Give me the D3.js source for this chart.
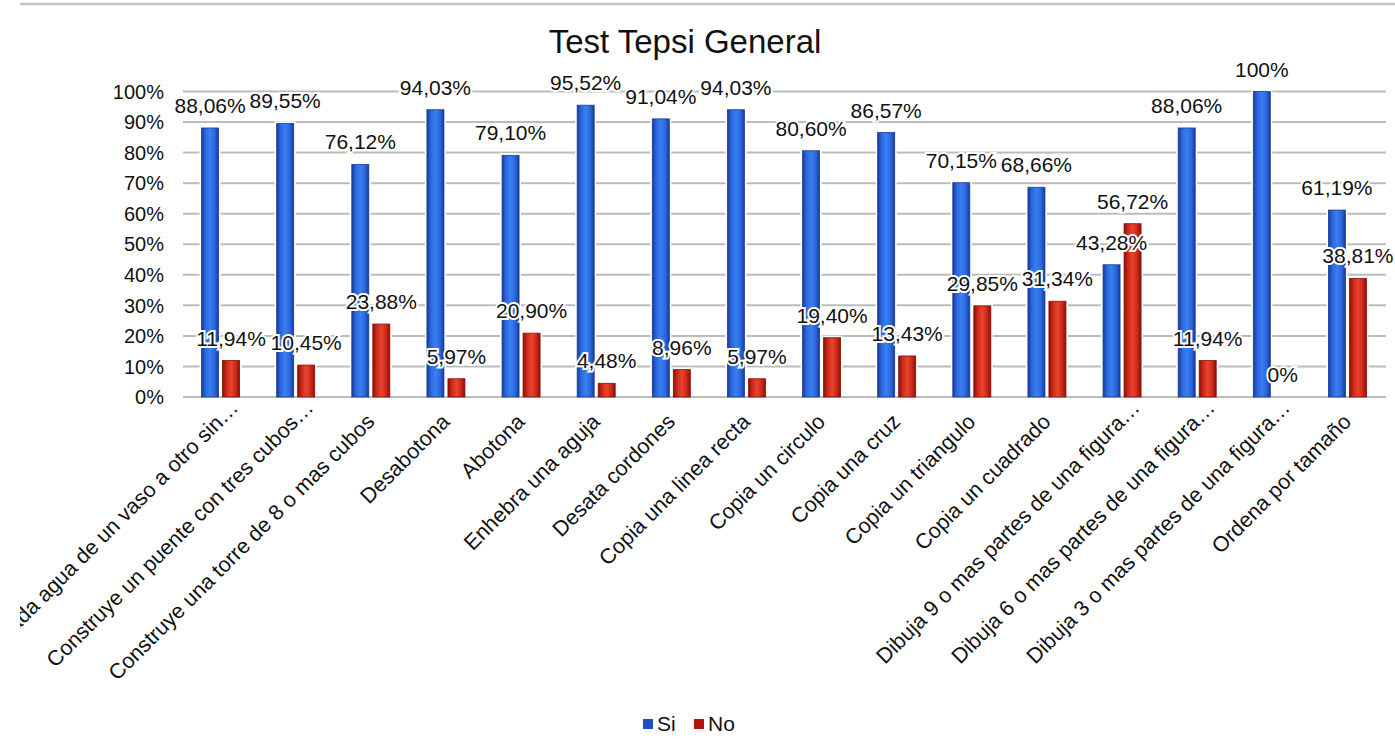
<!DOCTYPE html>
<html>
<head>
<meta charset="utf-8">
<script src="https://cdn.jsdelivr.net/npm/d3@7"></script>
<style>
  body { margin: 0; background: #fff; }
  text { font-family: "Liberation Sans", Arial, sans-serif; fill: #111; }
</style>
</head>
<body>
<svg width="1395" height="755"></svg>
<script>
const categories = [
  'Traslada agua de un vaso a otro sin…',
  'Construye un puente con tres cubos…',
  'Construye una torre de 8 o mas cubos',
  'Desabotona',
  'Abotona',
  'Enhebra una aguja',
  'Desata cordones',
  'Copia una linea recta',
  'Copia un circulo',
  'Copia una cruz',
  'Copia un triangulo',
  'Copia un cuadrado',
  'Dibuja 9 o mas partes de una figura…',
  'Dibuja 6 o mas partes de una figura…',
  'Dibuja 3 o mas partes de una figura…',
  'Ordena por tamaño'
];
const si = [88.06, 89.55, 76.12, 94.03, 79.10, 95.52, 91.04, 94.03, 80.60, 86.57, 70.15, 68.66, 43.28, 88.06, 100, 61.19];
const no = [11.94, 10.45, 23.88, 5.97, 20.90, 4.48, 8.96, 5.97, 19.40, 13.43, 29.85, 31.34, 56.72, 11.94, 0, 38.81];
const seriesNames = ['Si', 'No'];
const yTicks = [0, 10, 20, 30, 40, 50, 60, 70, 80, 90, 100];

const svg = d3.select('svg');

const defs = svg.append('defs');
defs.append('clipPath').attr('id', 'clip')
  .append('rect').attr('x', 20).attr('y', 0).attr('width', 1375).attr('height', 755);

function grad(id, edge, mid, center) {
  const g = defs.append('linearGradient').attr('id', id)
    .attr('x1', '0%').attr('x2', '100%').attr('y1', '0%').attr('y2', '0%');
  g.append('stop').attr('offset', '0%').attr('stop-color', edge);
  g.append('stop').attr('offset', '22%').attr('stop-color', mid);
  g.append('stop').attr('offset', '50%').attr('stop-color', center);
  g.append('stop').attr('offset', '78%').attr('stop-color', mid);
  g.append('stop').attr('offset', '100%').attr('stop-color', edge);
}
grad('gSi', '#17389a', '#2a66dc', '#3a7ff2');
grad('gNo', '#8a0e08', '#cc2818', '#e8442f');
const fills = { Si: 'url(#gSi)', No: 'url(#gNo)' };
const strokes = { Si: '#1a3c96', No: '#861008' };
const legendColors = { Si: '#1d4fc0', No: '#b3150e' };

const root = svg.append('g').attr('clip-path', 'url(#clip)');

// top border line
root.append('line')
  .attr('x1', 20).attr('x2', 1395).attr('y1', 4).attr('y2', 4)
  .attr('stroke', '#c4c4c4').attr('stroke-width', 2.5);

root.append('text')
  .attr('x', 685).attr('y', 53)
  .attr('text-anchor', 'middle')
  .style('font-size', '33px')
  .text('Test Tepsi General');

const x0 = d3.scaleBand()
  .domain(categories)
  .range([183, 1385])
  .paddingInner(0.494)
  .paddingOuter(0.247);

const x1 = d3.scaleBand()
  .domain(seriesNames)
  .range([0, x0.bandwidth()])
  .paddingInner(0.19);

const y = d3.scaleLinear().domain([0, 100]).range([397, 91.5]);

// gridlines
root.append('g')
  .selectAll('line')
  .data(yTicks)
  .enter().append('line')
    .attr('x1', 183).attr('x2', 1386)
    .attr('y1', d => y(d)).attr('y2', d => y(d))
    .attr('stroke', '#bcbcbc').attr('stroke-width', 2);

// y tick labels
root.append('g')
  .selectAll('text')
  .data(yTicks)
  .enter().append('text')
    .attr('x', 164)
    .attr('y', d => y(d))
    .attr('dy', '0.36em')
    .attr('text-anchor', 'end')
    .style('font-size', '20px')
    .text(d => d + '%');

const rows = categories.map((c, i) => ({ cat: c, values: [
  { key: 'Si', value: si[i] },
  { key: 'No', value: no[i] }
]}));

const groups = root.append('g')
  .selectAll('g')
  .data(rows)
  .enter().append('g')
    .attr('transform', d => `translate(${x0(d.cat)},0)`);

// white halo behind bars
groups.selectAll('rect.halo')
  .data(d => d.values.filter(v => v.value > 0))
  .enter().append('rect')
    .attr('class', 'halo')
    .attr('x', d => x1(d.key) - 2)
    .attr('width', x1.bandwidth() + 4)
    .attr('y', d => y(d.value) - 2)
    .attr('height', d => y(0) - y(d.value) + 1)
    .attr('fill', '#fff');

groups.selectAll('rect.bar')
  .data(d => d.values.filter(v => v.value > 0))
  .enter().append('rect')
    .attr('class', 'bar')
    .attr('x', d => x1(d.key))
    .attr('width', x1.bandwidth())
    .attr('y', d => y(d.value))
    .attr('height', d => y(0) - y(d.value))
    .attr('fill', d => fills[d.key])
    .attr('stroke', d => strokes[d.key])
    .attr('stroke-width', 0.8);

const fmt = v => v === 100 || v === 0 ? v + '%' : v.toFixed(2).replace('.', ',') + '%';

groups.selectAll('text')
  .data(d => d.values)
  .enter().append('text')
    .attr('x', d => x1(d.key) + x1.bandwidth() / 2)
    .attr('y', d => y(d.value) - 15)
    .attr('text-anchor', 'middle')
    .style('font-size', '21px')
    .style('paint-order', 'stroke')
    .style('stroke', '#fff')
    .style('stroke-width', '4px')
    .text(d => fmt(d.value));

// category labels, rotated
root.append('g')
  .selectAll('text')
  .data(categories)
  .enter().append('text')
    .attr('transform', d => {
      const cx = x0(d) + x0.bandwidth() / 2;
      const shift = d.endsWith('…') ? 14 : 0;
      return `translate(${cx + 5 + shift},${423 - shift}) rotate(-45)`;
    })
    .attr('text-anchor', 'end')
    .style('font-size', '21.5px')
    .text(d => d);

// legend
const legend = root.append('g').attr('transform', 'translate(643,719)');
const items = legend.selectAll('g')
  .data(seriesNames)
  .enter().append('g')
    .attr('transform', (d, i) => `translate(${i * 51},0)`);
items.append('rect')
  .attr('width', 10).attr('height', 10)
  .attr('fill', d => legendColors[d]);
items.append('text')
  .attr('x', 14).attr('y', 12)
  .style('font-size', '21px')
  .text(d => d);
</script>
</body>
</html>
